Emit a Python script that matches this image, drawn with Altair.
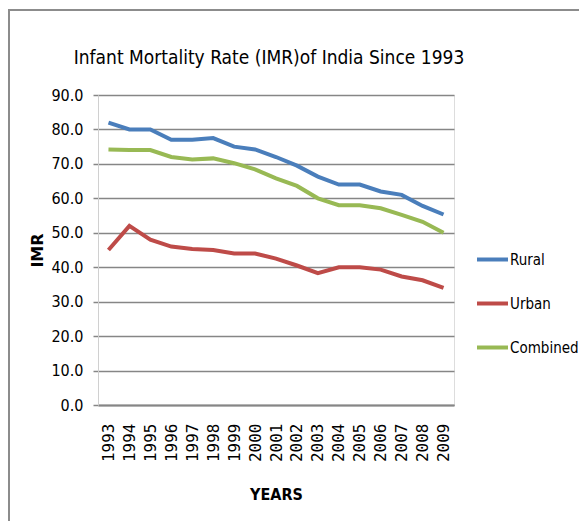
import altair as alt
import pandas as pd

years = [str(y) for y in range(1993, 2010)]
rural = [82, 80, 80, 77, 77, 77.5, 75, 74.2, 72, 69.5, 66.3, 64, 64, 62, 61, 57.8, 55.3]
urban = [45, 52, 48, 46, 45.3, 45, 44, 44, 42.5, 40.5, 38.3, 40, 40, 39.3, 37.3, 36.2, 34]
combined = [74.2, 74, 74, 72, 71.3, 71.6, 70.2, 68.4, 65.8, 63.6, 60, 58, 58, 57.1, 55.2, 53.2, 50]
series_names = ["Rural", "Urban", "Combined"]
series_colors = ["#4A7EBB", "#BE4B48", "#98B954"]
title_text = "Infant Mortality Rate (IMR)of India Since 1993"

rows = []
for name, vals in zip(series_names, [rural, urban, combined]):
    for y, v in zip(years, vals):
        rows.append({"Year": y, "IMR": v, "Series": name})
df = pd.DataFrame(rows)

NARROW = "DejaVu Sans Condensed"

lines = alt.Chart(df).mark_line(strokeWidth=4).encode(
    x=alt.X("Year:N", sort=years,
            scale=alt.Scale(type="point", padding=0.5),
            axis=alt.Axis(title="YEARS", labelAngle=-90, labelFont="DejaVu Sans Mono",
                          labelFontSize=16, labelColor="#000000", labelPadding=18,
                          ticks=False, domainColor="#868686", domainWidth=2,
                          titleFont=NARROW, titleFontSize=16, titleFontWeight="bold",
                          titleColor="#000000", titlePadding=25, grid=False)),
    y=alt.Y("IMR:Q",
            scale=alt.Scale(domain=[0, 90], nice=False),
            axis=alt.Axis(title="IMR", values=list(range(0, 100, 10)), format=".1f",
                          labelFont=NARROW, labelFontSize=16, labelColor="#000000",
                          labelPadding=10, tickSize=5, tickColor="#868686", tickWidth=1.5,
                          domainColor="#D0D0D0", domainWidth=1,
                          grid=True, gridColor="#868686", gridWidth=1.5,
                          titleFont="DejaVu Sans", titleFontSize=16, titleFontWeight="bold",
                          titleColor="#000000", titlePadding=5)),
    color=alt.Color("Series:N", sort=series_names,
                    scale=alt.Scale(domain=series_names, range=series_colors),
                    legend=alt.Legend(title=None, orient="none", legendX=377, legendY=147,
                                      symbolType="stroke", symbolSize=961,
                                      symbolStrokeWidth=4, labelFont=NARROW,
                                      labelFontSize=15, labelColor="#000000",
                                      labelOffset=0, rowPadding=18, padding=0)),
)

title = alt.Chart(alt.Data(values=[{"t": title_text}])).mark_text(
    font=NARROW, fontSize=19, color="#000000", align="center", baseline="middle"
).encode(text="t:N", x=alt.value(171), y=alt.value(-37))

border_left = alt.Chart(alt.Data(values=[{}])).mark_rule(color="#8C8C8C", strokeWidth=2).encode(
    x=alt.value(-89), y=alt.value(-85), y2=alt.value(440))
border_top = alt.Chart(alt.Data(values=[{}])).mark_rule(color="#8C8C8C", strokeWidth=2).encode(
    x=alt.value(-90), x2=alt.value(490), y=alt.value(-85))

chart = alt.layer(lines, title, border_left, border_top).properties(
    width=356, height=310,
    padding={"left": 90, "top": 87, "right": 125, "bottom": 116},
    autosize=alt.AutoSizeParams(type="none"),
).configure_view(stroke=None).configure(background="white")

chart.save("out.html", embed_options={"renderer": "svg", "actions": False})
